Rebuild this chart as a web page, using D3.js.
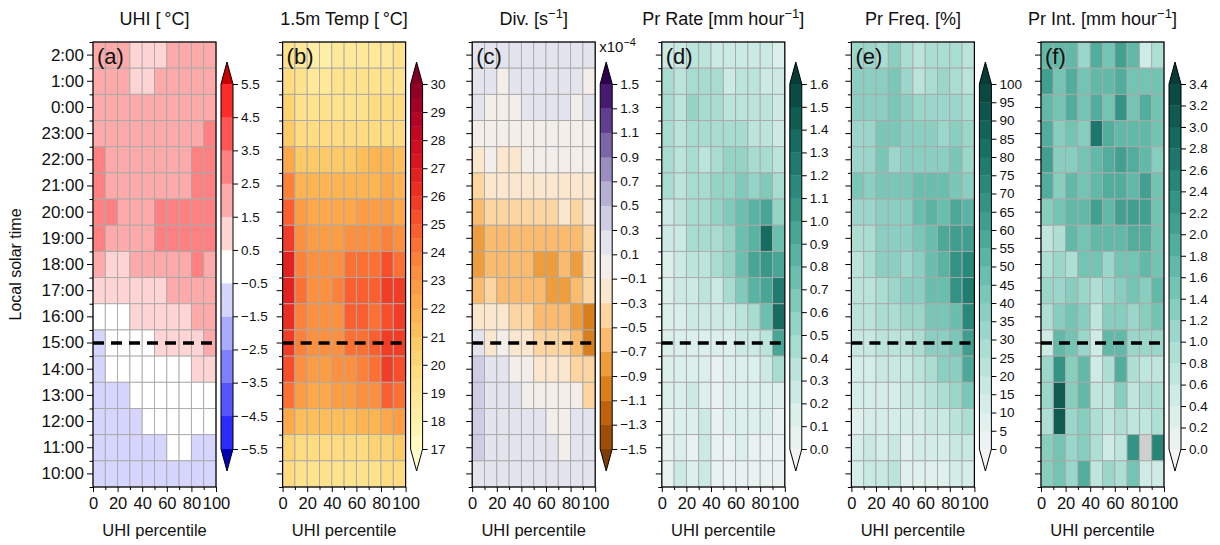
<!DOCTYPE html>
<html><head><meta charset="utf-8">
<script src="https://cdn.jsdelivr.net/npm/d3@7"></script>
<style>body{margin:0;background:#fff}svg{display:block}text{font-family:"Liberation Sans",Arial,sans-serif;fill:#111}</style>
</head><body><svg id="c" width="1220" height="545"></svg>
<script>
// ---------------- data ----------------
const hours = ["2:00","1:00","0:00","23:00","22:00","21:00","20:00","19:00","18:00","17:00","16:00","15:00","14:00","13:00","12:00","11:00","10:00"];
const bins = [0,10,20,30,40,50,60,70,80,90];
const xTicks = [0,20,40,60,80,100];
const xMinor = [10,30,50,70,90];
const dashedHour = "15:00";

// (a) UHI [°C]
const uhi = [
 [2.1,1.9,2.0,1.2,1.1,1.3,1.9,2.0,2.1,2.0],
 [2.0,2.0,2.1,1.2,1.3,1.9,2.0,2.0,2.1,2.0],
 [2.1,2.0,2.0,1.9,1.9,2.0,2.0,2.1,2.1,2.2],
 [2.2,2.1,2.0,2.0,2.0,2.0,2.1,2.1,2.2,2.8],
 [2.8,2.2,2.1,2.1,2.0,2.1,2.2,2.2,2.7,2.8],
 [2.8,2.2,2.1,2.1,2.1,2.1,2.2,2.3,2.7,2.8],
 [2.9,2.7,2.2,2.2,2.3,2.7,2.8,2.8,2.8,2.8],
 [2.8,2.3,2.2,2.2,2.3,2.7,2.8,2.8,2.7,2.8],
 [2.0,1.3,1.2,1.8,1.9,2.0,2.0,2.1,2.6,2.2],
 [1.3,1.2,1.1,1.2,1.2,1.3,1.8,2.0,2.1,2.2],
 [0.3,0.2,0.4,1.0,1.1,1.2,1.3,1.2,1.8,2.0],
 [-0.7,0.1,0.2,0.3,0.4,0.9,1.0,1.1,1.3,1.8],
 [-0.8,0.0,0.1,0.1,0.2,0.3,0.3,0.4,1.0,1.1],
 [-0.9,-0.8,-0.7,0.0,0.1,0.1,0.2,0.3,0.2,0.3],
 [-1.0,-0.9,-0.8,-0.7,-0.2,0.0,0.1,0.1,0.2,0.2],
 [-1.1,-1.0,-0.9,-0.8,-0.8,-0.7,0.0,0.1,-0.6,-0.7],
 [-1.2,-1.1,-1.0,-0.9,-0.9,-0.8,-0.8,-0.7,-0.7,-0.6]
];
// (b) 1.5 m temperature [°C]
const temp = [
 [19.1,18.7,18.2,18.3,18.6,18.7,18.7,18.8,18.7,19.1],
 [19.7,19.1,18.8,18.9,19.1,19.1,19.1,19.1,19.1,19.2],
 [20.2,19.4,19.2,19.3,19.4,19.4,19.4,19.5,19.5,19.6],
 [20.7,19.7,19.6,19.7,19.8,19.8,19.8,19.9,19.9,19.8],
 [22.1,20.9,20.8,20.8,20.9,20.9,21.1,21.6,21.7,21.1],
 [23.6,21.7,21.5,21.5,21.6,21.6,21.7,21.8,22.1,21.7],
 [24.5,22.6,22.1,22.1,22.3,22.4,22.5,22.5,22.7,22.3],
 [25.6,23.1,22.6,22.6,22.7,23.1,23.1,23.1,23.6,23.1],
 [26.6,23.6,23.1,23.1,23.2,24.1,24.1,24.2,25.1,24.2],
 [26.6,24.1,23.2,23.3,23.6,24.6,24.6,24.7,25.6,25.6],
 [26.1,23.7,23.1,23.1,23.3,24.6,24.6,24.2,25.1,25.6],
 [25.6,23.6,23.1,23.1,23.2,24.2,24.2,24.6,25.6,25.6],
 [25.1,23.1,22.6,22.6,23.1,23.1,23.6,24.1,25.6,25.1],
 [24.1,22.6,22.1,22.1,22.6,22.6,23.1,23.1,24.6,24.1],
 [22.1,21.1,21.1,21.1,21.1,21.1,21.6,21.6,22.1,22.6],
 [20.1,19.7,19.6,19.6,19.7,19.7,19.8,20.1,20.1,20.6],
 [19.6,19.1,19.1,19.1,19.1,19.1,19.2,19.2,19.6,19.6]
];
// (c) divergence [x1e-4 s^-1]
const divg = [
 [0.2,0.2,0.2,0.2,0.2,0.2,0.2,0.2,0.2,0.2],
 [0.2,0.2,0.0,0.2,0.2,0.2,0.2,0.2,0.2,0.0],
 [0.2,0.0,0.0,0.0,0.2,0.2,0.2,0.2,0.0,0.2],
 [0.0,0.0,0.0,0.0,0.0,0.0,0.0,0.0,0.0,0.0],
 [-0.2,0.0,-0.2,-0.2,0.0,0.0,0.0,0.0,0.0,0.0],
 [-0.4,-0.2,-0.2,-0.2,-0.2,-0.2,-0.2,-0.2,-0.2,-0.2],
 [-0.6,-0.4,-0.4,-0.4,-0.4,-0.4,-0.4,-0.2,-0.4,-0.2],
 [-0.8,-0.6,-0.6,-0.6,-0.6,-0.6,-0.6,-0.6,-0.6,-0.4],
 [-0.8,-0.6,-0.6,-0.6,-0.6,-0.8,-0.8,-0.6,-0.8,-0.4],
 [-0.6,-0.4,-0.6,-0.6,-0.6,-0.6,-0.8,-0.8,-0.6,-0.4],
 [-0.2,-0.2,-0.2,-0.4,-0.4,-0.6,-0.6,-0.6,-0.8,-1.0],
 [0.2,-0.2,0.0,-0.2,-0.2,-0.4,-0.4,-0.4,-0.6,-1.0],
 [0.4,0.2,0.2,0.0,0.0,-0.2,-0.2,-0.2,-0.4,-0.4],
 [0.4,0.2,0.2,0.2,0.0,0.0,0.0,0.0,0.0,-0.4],
 [0.4,0.2,0.2,0.2,0.2,0.2,0.0,0.0,0.2,0.2],
 [0.4,0.2,0.2,0.2,0.2,0.2,0.2,0.0,0.2,0.2],
 [0.2,0.2,0.2,0.2,0.2,0.2,0.2,0.2,0.2,0.2]
];
// (d) precipitation rate [mm/hour]
const prRate = [
 [0.25,0.25,0.3,0.3,0.25,0.2,0.2,0.25,0.2,0.15],
 [0.45,0.35,0.4,0.45,0.4,0.2,0.3,0.3,0.25,0.2],
 [0.45,0.35,0.5,0.45,0.45,0.3,0.35,0.3,0.3,0.25],
 [0.4,0.3,0.45,0.45,0.45,0.4,0.4,0.35,0.3,0.25],
 [0.45,0.35,0.45,0.3,0.45,0.5,0.5,0.45,0.45,0.3],
 [0.45,0.3,0.4,0.4,0.5,0.55,0.65,0.5,0.6,0.4],
 [0.25,0.3,0.4,0.4,0.5,0.6,0.7,0.8,0.9,0.55],
 [0.2,0.2,0.4,0.45,0.45,0.5,0.75,0.85,1.3,0.7],
 [0.15,0.2,0.35,0.35,0.4,0.5,0.7,0.95,1.05,0.9],
 [0.15,0.2,0.25,0.3,0.25,0.4,0.6,0.8,0.95,1.2],
 [0.1,0.15,0.2,0.2,0.25,0.25,0.3,0.45,0.7,1.35],
 [0.1,0.1,0.15,0.15,0.1,0.15,0.2,0.25,0.35,0.9],
 [0.1,0.1,0.15,0.1,0.05,0.1,0.15,0.15,0.2,0.45],
 [0.1,0.15,0.2,0.15,0.05,0.1,0.15,0.1,0.1,0.1],
 [0.05,0.15,0.1,0.2,0.05,0.1,0.15,0.1,0.1,0.05],
 [0.05,0.15,0.05,0.2,0.05,0.05,0.1,0.05,0.05,0.05],
 [0.05,0.2,0.1,0.2,0.05,0.05,0.05,0.05,0.05,0.05]
];
// (e) precipitation frequency [%]
const prFreq = [
 [30,30,25,35,25,20,25,25,25,20],
 [35,35,35,40,30,20,25,30,25,20],
 [35,35,35,40,35,30,30,30,30,25],
 [30,30,40,40,35,35,35,30,35,30],
 [30,30,40,30,35,35,35,35,40,30],
 [40,35,40,40,40,45,45,45,40,35],
 [30,30,35,35,35,45,50,45,55,50],
 [25,25,35,35,35,40,45,55,60,60],
 [20,25,35,35,30,35,45,50,65,70],
 [20,20,25,30,35,35,45,45,65,75],
 [20,20,25,25,30,30,40,40,45,70],
 [15,15,20,20,20,25,35,35,40,60],
 [10,10,15,15,15,20,25,35,35,55],
 [10,10,10,10,15,15,20,25,30,40],
 [5,10,10,10,10,10,15,15,20,25],
 [10,15,10,15,5,10,10,10,15,15],
 [10,15,15,20,5,5,5,5,10,10]
];
// (f) precipitation intensity [mm/hour]  (null = no data)
const prInt = [
 [1.6,1.6,1.6,1.0,1.8,1.4,2.0,1.6,0.4,0.8],
 [2.0,1.4,1.8,1.4,1.6,1.6,1.8,1.4,1.4,1.4],
 [1.6,1.4,1.8,1.4,1.8,1.4,2.2,1.4,1.8,1.4],
 [1.8,1.2,1.4,1.2,2.6,1.8,1.6,1.6,1.6,1.4],
 [2.0,1.2,1.2,1.4,1.6,1.8,2.0,1.8,1.6,1.2],
 [1.8,1.2,1.6,1.4,1.6,1.8,1.8,1.6,2.0,1.4],
 [1.2,1.4,1.6,1.6,2.0,1.6,2.0,2.0,2.0,1.4],
 [0.6,0.8,1.6,1.4,1.6,1.6,1.6,1.8,1.8,1.4],
 [0.8,1.0,0.8,1.4,1.4,1.0,1.4,1.4,1.6,1.4],
 [1.0,1.0,1.2,1.0,0.8,1.0,1.2,1.4,1.2,1.6],
 [0.8,1.2,1.4,1.2,0.6,1.2,1.2,1.0,1.2,1.4],
 [0.4,1.6,1.4,1.0,0.4,1.6,1.6,1.0,1.0,1.0],
 [1.0,2.2,1.2,1.6,0.4,0.8,1.8,0.8,0.6,0.6],
 [1.0,3.0,1.2,1.6,0.6,0.6,1.2,0.6,0.8,0.8],
 [0.8,3.0,1.0,1.2,0.8,0.6,0.8,0.6,0.6,0.8],
 [1.2,1.4,1.0,1.2,0.8,0.4,0.6,2.2,null,2.4],
 [1.2,1.4,1.0,1.8,0.6,1.0,0.8,1.4,0.4,0.4]
];

// colour levels and colourbar tick labels
const uhiLevels = [-5.5,-4.5,-3.5,-2.5,-1.5,-0.5,0.5,1.5,2.5,3.5,4.5,5.5];
const uhiTicks = uhiLevels;
const tempLevels = d3.range(17, 30.25, 0.5);
const tempTicks = [17,18,19,20,21,22,23,24,25,26,27,28,29,30];
const divLevels = [-1.5,-1.3,-1.1,-0.9,-0.7,-0.5,-0.3,-0.1,0.1,0.3,0.5,0.7,0.9,1.1,1.3,1.5];
const divTicks = divLevels;
const rateLevels = [0,0.1,0.2,0.3,0.4,0.5,0.6,0.7,0.8,0.9,1.0,1.1,1.2,1.3,1.4,1.5,1.6];
const rateTicks = rateLevels;
const freqLevels = d3.range(0, 101, 5);
const freqTicks = freqLevels;
const intLevels = [0,0.2,0.4,0.6,0.8,1.0,1.2,1.4,1.6,1.8,2.0,2.2,2.4,2.6,2.8,3.0,3.2,3.4];
const intTicks = intLevels;

// ---------------- colour maps ----------------
function bwr(t){
  if (t < 0.5) { const v = Math.round(2*t*255); return d3.rgb(v, v, 255).formatHex(); }
  const v = Math.round(2*(1-t)*255); return d3.rgb(255, v, v).formatHex();
}
const tempo = d3.interpolateRgbBasis(["#f4f4f4","#d8efea","#abdfd3","#79c8b8","#4aaa98","#26887a","#10635a","#063c35"]);
const orPu = t => d3.interpolatePuOr(1 - t);   // orange for negative, purple for positive
function makeColors(levels, interp){
  const n = levels.length + 1;             // intervals + 2 extensions
  return d3.range(n).map(i => d3.color(interp(i/(n-1))).formatHex());
}
const uhiColors = makeColors(uhiLevels, bwr);
uhiColors[0] = "#0000b4"; uhiColors[uhiColors.length-1] = "#c80000";

const panels = [
  {lab:"(a)", title:[["UHI [\u2009°C]"]], data:uhi, levels:uhiLevels, ticks:uhiTicks, fmt:d3.format(".1f"), colors:uhiColors},
  {lab:"(b)", title:[["1.5m Temp [\u2009°C]"]], data:temp, levels:tempLevels, ticks:tempTicks, fmt:d3.format("d"), colors:makeColors(tempLevels, d3.interpolateYlOrRd)},
  {lab:"(c)", title:[["Div. [s"],["−1",1],["]"]], data:divg, levels:divLevels, ticks:divTicks, fmt:d3.format(".1f"), colors:makeColors(divLevels, orPu), exp:true},
  {lab:"(d)", title:[["Pr Rate [mm hour"],["−1",1],["]"]], data:prRate, levels:rateLevels, ticks:rateTicks, fmt:d3.format(".1f"), colors:makeColors(rateLevels, tempo)},
  {lab:"(e)", title:[["Pr Freq. [%]"]], data:prFreq, levels:freqLevels, ticks:freqTicks, fmt:d3.format("d"), colors:makeColors(freqLevels, tempo)},
  {lab:"(f)", title:[["Pr Int. [mm hour"],["−1",1],["]"]], data:prInt, levels:intLevels, ticks:intTicks, fmt:d3.format(".1f"), colors:makeColors(intLevels, tempo)}
];

// ---------------- layout ----------------
const svg = d3.select("#c");
const left0 = 93, dxPanel = 189.6, W = 123, plotTop = 42, plotBottom = 487;
const cbTop = 84, cbBot = 449, cbW = 12, cbTip = 22;

const y = d3.scaleBand().domain(hours).range([plotTop, plotBottom]);
const yEdge = d3.scaleLinear().domain([0, hours.length]).range([plotTop, plotBottom]);

panels.forEach((p, pi) => {
  const L = left0 + pi*dxPanel;
  const x = d3.scaleLinear().domain([0,100]).range([L, L+W]);
  const g = svg.append("g");

  // cells
  p.data.forEach((row, ri) => {
    row.forEach((v, ci) => {
      let fill;
      if (v === null) fill = "#cfcfcf";
      else fill = p.colors[d3.bisectRight(p.levels, v)];
      g.append("rect")
        .attr("x", x(bins[ci])).attr("y", y(hours[ri]))
        .attr("width", x(bins[ci]+10) - x(bins[ci])).attr("height", y.bandwidth())
        .attr("fill", fill).attr("stroke", "#a9a9a9").attr("stroke-width", 0.9);
    });
  });

  // dashed 15:00 line
  const yd = y(dashedHour) + y.bandwidth()/2;
  g.append("line").attr("x1", L).attr("x2", L+W).attr("y1", yd).attr("y2", yd)
    .attr("stroke", "#000").attr("stroke-width", 3.5).attr("stroke-dasharray", "11,7");

  // frame
  g.append("rect").attr("x", L).attr("y", plotTop).attr("width", W).attr("height", plotBottom-plotTop)
    .attr("fill", "none").attr("stroke", "#000").attr("stroke-width", 1.2);

  // x axis
  const xa = g.append("g").attr("transform", `translate(0,${plotBottom})`)
    .call(d3.axisBottom(x).tickValues(xTicks).tickSize(5).tickPadding(5).tickFormat(d3.format("d")));
  xa.select(".domain").remove();
  xa.selectAll("text").attr("font-size", 16.5).attr("fill", "#111");
  const xm = g.append("g").attr("transform", `translate(0,${plotBottom})`)
    .call(d3.axisBottom(x).tickValues(xMinor).tickSize(3).tickFormat(""));
  xm.select(".domain").remove();
  g.append("text").attr("x", L+W/2).attr("y", 536).attr("text-anchor", "middle")
    .attr("font-size", 16.5).text("UHI percentile");

  // y axis
  const ya = g.append("g").attr("transform", `translate(${L},0)`)
    .call(d3.axisLeft(y).tickSize(6).tickPadding(3).tickFormat(pi === 0 ? (d => d) : ""));
  ya.select(".domain").remove();
  ya.selectAll("text").attr("font-size", 17).attr("fill", "#111");
  const ym = g.append("g").attr("transform", `translate(${L},0)`)
    .call(d3.axisLeft(yEdge).tickValues(d3.range(hours.length+1)).tickSize(3.5).tickFormat(""));
  ym.select(".domain").remove();

  // panel label
  g.append("text").attr("x", L+4).attr("y", 64).attr("font-size", 22).text(p.lab);

  // title
  const t = g.append("text").attr("x", L+W/2).attr("y", 25).attr("text-anchor", "middle").attr("font-size", 18);
  p.title.forEach((part, k) => {
    if (part[1]) {
      t.append("tspan").attr("dy", -7).attr("font-size", 13).text(part[0]);
    } else {
      const s = t.append("tspan").text(part[0]);
      if (k > 0) s.attr("dy", 7);
    }
  });

  // colourbar
  const cx0 = L + W + 5, cx1 = cx0 + cbW, cxm = (cx0+cx1)/2;
  const cb = d3.scaleLinear().domain([p.levels[0], p.levels[p.levels.length-1]]).range([cbBot, cbTop]);
  const cg = svg.append("g");
  for (let k = 0; k < p.levels.length-1; k++) {
    cg.append("rect").attr("x", cx0).attr("width", cbW)
      .attr("y", cb(p.levels[k+1])).attr("height", cb(p.levels[k]) - cb(p.levels[k+1]) + 0.3)
      .attr("fill", p.colors[k+1]);
  }
  cg.append("path").attr("d", `M${cx0},${cbTop}L${cxm},${cbTop-cbTip}L${cx1},${cbTop}Z`).attr("fill", p.colors[p.colors.length-1]);
  cg.append("path").attr("d", `M${cx0},${cbBot}L${cxm},${cbBot+cbTip}L${cx1},${cbBot}Z`).attr("fill", p.colors[0]);
  cg.append("path")
    .attr("d", `M${cx0},${cbBot}L${cx0},${cbTop}L${cxm},${cbTop-cbTip}L${cx1},${cbTop}L${cx1},${cbBot}L${cxm},${cbBot+cbTip}Z`)
    .attr("fill", "none").attr("stroke", "#000").attr("stroke-width", 1);
  const ca = cg.append("g").attr("transform", `translate(${cx1},0)`)
    .call(d3.axisRight(cb).tickValues(p.ticks).tickSize(5).tickPadding(3).tickFormat(p.fmt));
  ca.select(".domain").remove();
  ca.selectAll("text").attr("font-size", 13.5).attr("fill", "#222");
  if (p.exp) {
    const e = cg.append("text").attr("x", cx0 - 1).attr("y", 52).attr("font-size", 15);
    e.append("tspan").text("x10");
    e.append("tspan").attr("dy", -6).attr("font-size", 11).text("−4");
  }
});

// y-axis title
svg.append("text").attr("transform", `translate(21,${(plotTop+plotBottom)/2}) rotate(-90)`)
  .attr("text-anchor", "middle").attr("font-size", 16).text("Local solar time");
</script></body></html>
